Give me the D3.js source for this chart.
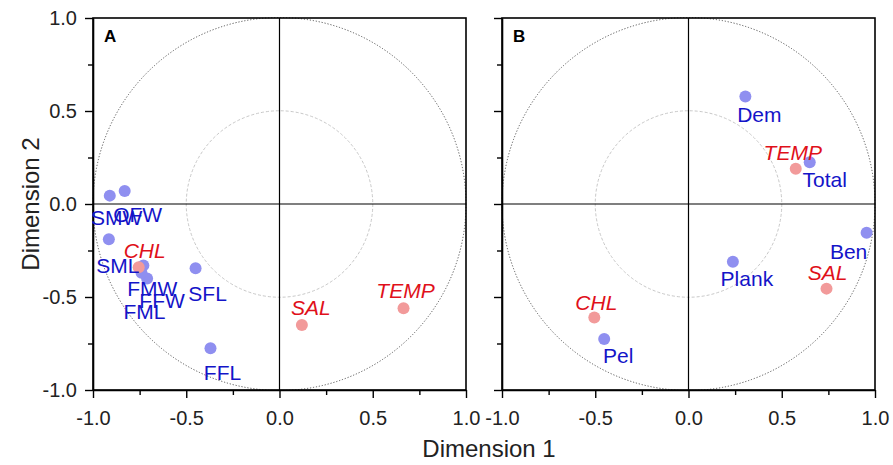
<!DOCTYPE html>
<html><head><meta charset="utf-8">
<script src="https://cdn.jsdelivr.net/npm/d3@7"></script>
<style>body{margin:0;background:#fff}svg{display:block}text{font-family:"Liberation Sans",Arial,sans-serif}</style>
</head><body><svg id="c" width="893" height="465"></svg>
<script>
// ---- data ----
const axisTicks = [-1.0, -0.5, 0.0, 0.5, 1.0];
const minorTicks = [-0.75, -0.25, 0.25, 0.75];
const panelNames = ["A", "B"];

const aSpeciesNames = ["SMW", "OFW", "SML", "FMW", "FFW", "FML", "SFL", "FFL"];
const aSpeciesX = [-0.91, -0.83, -0.915, -0.73, -0.71, -0.74, -0.45, -0.37];
const aSpeciesY = [0.045, 0.07, -0.19, -0.33, -0.40, -0.37, -0.345, -0.775];
const aEnvNames = ["CHL", "SAL", "TEMP"];
const aEnvX = [-0.755, 0.12, 0.665];
const aEnvY = [-0.34, -0.65, -0.56];

const bSpeciesNames = ["Dem", "Total", "Ben", "Plank", "Pel"];
const bSpeciesX = [0.305, 0.65, 0.955, 0.238, -0.452];
const bSpeciesY = [0.578, 0.225, -0.155, -0.31, -0.726];
const bEnvNames = ["TEMP", "SAL", "CHL"];
const bEnvX = [0.575, 0.74, -0.505];
const bEnvY = [0.19, -0.455, -0.61];

// label placement (pixel offsets from point)
const aSpeciesLabelOff = [[7,22],[13,24],[9,26],[9,23],[15,22],[3,39],[12,25],[12,24]];
const aEnvLabelOff = [[6,-17],[9,-17],[2,-18]];
const bSpeciesLabelOff = [[14,18],[15,17],[-18,19],[14,17],[14,16]];
const bEnvLabelOff = [[-3,-16],[1,-16],[2,-15]];

// ---- drawing ----
const svg = d3.select("#c");
const plotTop = 18, plotBottom = 390;
const panels = [
  {left: 93, right: 466, name: panelNames[0],
   sp: aSpeciesNames.map((n,i)=>({n, x:aSpeciesX[i], y:aSpeciesY[i], o:aSpeciesLabelOff[i]})),
   env: aEnvNames.map((n,i)=>({n, x:aEnvX[i], y:aEnvY[i], o:aEnvLabelOff[i]})), yLabels: true},
  {left: 502, right: 875, name: panelNames[1],
   sp: bSpeciesNames.map((n,i)=>({n, x:bSpeciesX[i], y:bSpeciesY[i], o:bSpeciesLabelOff[i]})),
   env: bEnvNames.map((n,i)=>({n, x:bEnvX[i], y:bEnvY[i], o:bEnvLabelOff[i]})), yLabels: false}
];
const y = d3.scaleLinear().domain([-1, 1]).range([plotBottom, plotTop]);
const fmt = d => d3.format(".1f")(d).replace("\u2212", "-");
const blueDot = "#8f8ff0", blueText = "#1414c8", redDot = "#f29a9a", redText = "#e0101a";

panels.forEach(p => {
  const x = d3.scaleLinear().domain([-1, 1]).range([p.left, p.right]);
  const g = svg.append("g");
  const cx = x(0), cy = y(0);
  const r1 = x(1) - x(0), r05 = x(0.5) - x(0);
  g.append("circle").attr("cx", cx).attr("cy", cy).attr("r", r1)
    .attr("fill", "none").attr("stroke", "#555").attr("stroke-width", 1).attr("stroke-dasharray", "1.2,1.8");
  g.append("circle").attr("cx", cx).attr("cy", cy).attr("r", r05)
    .attr("fill", "none").attr("stroke", "#c8c8c8").attr("stroke-width", 1).attr("stroke-dasharray", "3,2");
  g.append("line").attr("x1", x(-1)).attr("x2", x(1)).attr("y1", cy).attr("y2", cy).attr("stroke", "#000").attr("stroke-width", 1.2);
  g.append("line").attr("x1", cx).attr("x2", cx).attr("y1", y(1)).attr("y2", y(-1)).attr("stroke", "#000").attr("stroke-width", 1.2);
  g.append("rect").attr("x", p.left).attr("y", plotTop).attr("width", p.right - p.left).attr("height", plotBottom - plotTop)
    .attr("fill", "none").attr("stroke", "#000").attr("stroke-width", 1.6);
  const xAx = g.append("g").attr("transform", `translate(0,${plotBottom})`)
    .call(d3.axisBottom(x).tickValues(axisTicks).tickFormat(fmt).tickSize(8).tickPadding(13).tickSizeOuter(0));
  g.append("g").attr("transform", `translate(0,${plotBottom})`)
    .call(d3.axisBottom(x).tickValues(minorTicks).tickFormat("").tickSize(5).tickSizeOuter(0))
    .select(".domain").remove();
  const yAx = g.append("g").attr("transform", `translate(${p.left},0)`)
    .call(d3.axisLeft(y).tickValues(axisTicks).tickFormat(p.yLabels ? fmt : "").tickSize(8).tickPadding(8).tickSizeOuter(0));
  g.append("g").attr("transform", `translate(${p.left},0)`)
    .call(d3.axisLeft(y).tickValues(minorTicks).tickFormat("").tickSize(5).tickSizeOuter(0))
    .select(".domain").remove();
  g.selectAll(".tick line").attr("stroke", "#000").attr("stroke-width", 1.4);
  g.selectAll(".domain").attr("stroke-width", 1.6);
  g.selectAll(".tick text").attr("font-size", 20).attr("fill", "#222").attr("font-family", "Liberation Sans, Arial, sans-serif");
  g.append("text").attr("x", p.left + 11).attr("y", plotTop + 24).text(p.name)
    .attr("font-size", 17).attr("font-weight", "bold").attr("fill", "#000");
  g.selectAll(".sp").data(p.sp).join("circle")
    .attr("cx", d => x(d.x)).attr("cy", d => y(d.y)).attr("r", 6).attr("fill", blueDot);
  g.selectAll(".en").data(p.env).join("circle")
    .attr("cx", d => x(d.x)).attr("cy", d => y(d.y)).attr("r", 6).attr("fill", redDot);
  g.selectAll(".spl").data(p.sp).join("text")
    .attr("x", d => x(d.x) + d.o[0]).attr("y", d => y(d.y) + d.o[1])
    .attr("text-anchor", "middle").attr("dominant-baseline", "central")
    .attr("font-size", 21).attr("fill", blueText).text(d => d.n);
  g.selectAll(".enl").data(p.env).join("text")
    .attr("x", d => x(d.x) + d.o[0]).attr("y", d => y(d.y) + d.o[1])
    .attr("text-anchor", "middle").attr("dominant-baseline", "central")
    .attr("font-size", 21).attr("font-style", "italic").attr("fill", redText).text(d => d.n);
});

svg.append("text").attr("x", 489).attr("y", 457).attr("text-anchor", "middle")
  .attr("font-size", 24).attr("fill", "#222").text("Dimension 1");
svg.append("text").attr("transform", "translate(39,204) rotate(-90)").attr("text-anchor", "middle")
  .attr("font-size", 24).attr("fill", "#222").text("Dimension 2");
</script>
</body></html>
